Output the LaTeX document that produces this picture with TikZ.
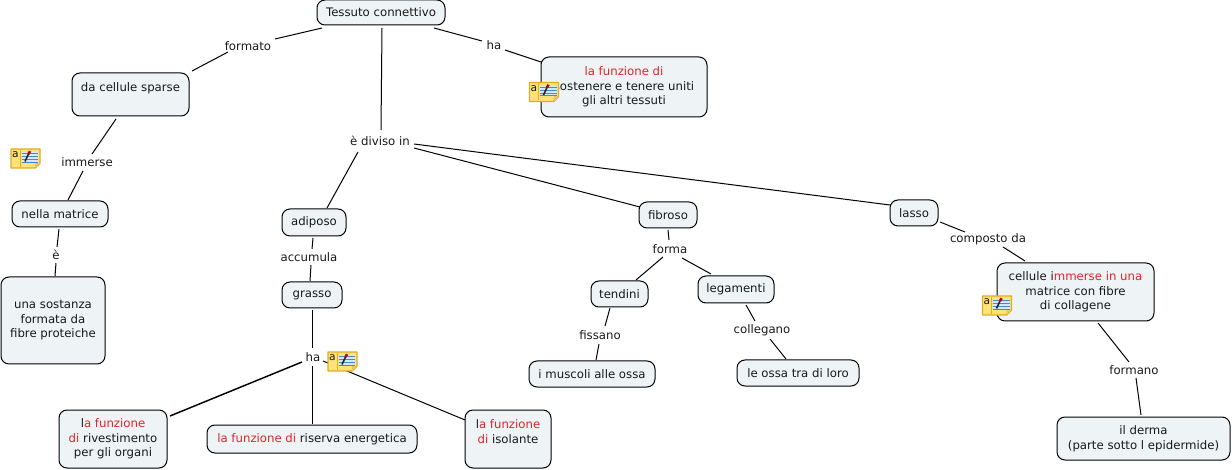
\documentclass[tikz,border=0pt]{standalone}
\usepackage{fontspec}
\setmainfont{DejaVu Sans}
\definecolor{boxfill}{HTML}{EEF4F6}
\definecolor{fred}{HTML}{E0242A}
\definecolor{noteyel}{HTML}{FFE27A}
\definecolor{noteedge}{HTML}{E0AC20}
\definecolor{noteblue}{HTML}{4A86CC}
\definecolor{notepanel}{HTML}{D6E8F4}
\newcommand{\rd}[1]{\textcolor{fred}{#1}}
\newcommand{\link}[4]{\draw[conn] ([shift={(#2)}]#1.center) -- ([shift={(#4)}]#3.center);}
\newcommand{\noteicon}[3]{%
  \begin{scope}[shift={(#2,#3)}]
    \draw[noteedge,fill=noteyel,line width=1.1pt,line join=round] (0,0) -- (29,0) -- (29,14) -- (24,19) -- (0,19) -- cycle;
    \fill[noteedge!70!white] (29,14) -- (24,14) -- (24,19) -- cycle;
    \draw[noteedge,line width=0.6pt] (9,1) -- (9,18);
    \fill[notepanel] (10.5,3.5) rectangle (27,13.5);
    \draw[noteblue,line width=0.6pt] (10.5,4.5) -- (27,4.5) (10.5,7.5) -- (27,7.5) (10.5,10.5) -- (27,10.5) (10.5,13) -- (27,13);
    \draw[black!85,line width=1.2pt] (14,12.5) -- (17.5,5);
    \draw[red!75!black,line width=1.9pt] (17.5,5) -- (19,2.2);
    \node[icona] (#1) at (4.5,6) {a};
  \end{scope}}
\tikzset{
  x=0.75pt,y=-0.75pt,
  every node/.style={font=\fontsize{8.8}{10.9}\selectfont,align=center,inner sep=0pt,text=black!90},
  cbox/.style 2 args={draw=black,fill=boxfill,line width=0.75pt,rounded corners=6pt,minimum width=#1*0.75pt,minimum height=#2*0.75pt},
  lab/.style={},
  conn/.style={draw=black,line width=0.75pt},
  icona/.style={font=\fontsize{8}{9}\selectfont}
}
\begin{document}
\begin{tikzpicture}
\useasboundingbox (0,0) rectangle (1232,470);
% concepts
\node[cbox={128}{25}] (ct) at (381,12.5) {Tessuto connettivo};
\node[cbox={117}{43}] (cell) at (130.5,94.5) {da cellule sparse\\~};
\node[cbox={166}{60}] (func) at (624,87) {\rd{la funzione di}\\sostenere e tenere uniti\\gli altri tessuti};
\node[cbox={96}{26}] (nella) at (60,214) {nella matrice};
\node[cbox={104}{87}] (sost) at (53,320.5) {una sostanza\\formata da\\fibre proteiche};
\node[cbox={64}{27}] (adi) at (314,222.5) {adiposo};
\node[cbox={60}{26}] (gr) at (312,295) {grasso};
\node[cbox={58}{26}] (fib) at (668,215) {fibroso};
\node[cbox={48}{26}] (las) at (914,213) {lasso};
\node[cbox={157}{58}] (cel) at (1075.5,292) {cellule i\rd{mmerse in una}\\matrice con fibre\\di collagene};
\node[cbox={57}{26}] (ten) at (619.5,294) {tendini};
\node[cbox={76}{27}] (leg) at (736,289.5) {legamenti};
\node[cbox={126}{26}] (mus) at (592,374) {i muscoli alle ossa};
\node[cbox={122}{26}] (oss) at (798,373) {le ossa tra di loro};
\node[cbox={173}{43}] (der) at (1143.5,438.5) {il derma\\(parte sotto l epidermide)};
\node[cbox={108}{58}] (riv) at (113,439) {l\rd{a funzione}\\\rd{di} rivestimento\\per gli organi};
\node[cbox={210}{28}] (ris) at (312,439) {\rd{la funzione di} riserva energetica};
\node[cbox={86}{58}] (iso) at (508,439) {l\rd{a funzione}\\\rd{di} isolante\\~};
% linking phrases
\node[lab] (l1) at (248,46) {formato};
\node[lab] (l2) at (494,45) {ha};
\node[lab] (l3) at (87,162) {immerse};
\node[lab] (l4) at (56,255) {è};
\node[lab] (l5) at (380,141) {è diviso in};
\node[lab] (l6) at (309,257) {accumula};
\node[lab] (l7) at (313,357) {ha};
\node[lab] (l8) at (670,249) {forma};
\node[lab] (l9) at (600,335) {fissano};
\node[lab] (l10) at (762,330) {collegano};
\node[lab] (l11) at (988,239) {composto da};
\node[lab] (l12) at (1134,370) {formano};
% connectors
\link{ct}{-59,15.5}{l1}{27,-7}
\link{l1}{-20,6}{cell}{61.5,-23.5}
\link{ct}{53,15.5}{l2}{-12,-4}
\link{l2}{11,5}{func}{-83,-25}
\link{ct}{1,15.5}{l5}{1,-11}
\link{cell}{-14.5,24.5}{l3}{5,-8}
\link{l3}{-4,9}{nella}{8,-14}
\link{nella}{-1,15}{l4}{1,-8}
\link{l4}{0,8}{sost}{2,-44.5}
\link{l5}{-22,11}{adi}{13,-14.5}
\link{adi}{-1,15.5}{l6}{3,-8}
\link{l6}{2,8}{gr}{-2,-14}
\link{gr}{0,15}{l7}{-1,-9}
\draw[conn,line width=1.1pt] ([shift={(-11,5)}]l7.center) -- ([shift={(57,-23)}]riv.center);
\link{l7}{-1,9}{ris}{0,-15}
\link{l7}{10,4}{iso}{-43,-19}
\link{l5}{34,7}{fib}{-28,-8}
\link{l5}{34,3}{las}{-24,-8}
\link{fib}{0,15}{l8}{-1,-9}
\link{l8}{-7,8}{ten}{16.5,-14}
\link{l8}{12,9}{leg}{-25,-15.5}
\link{ten}{-9.5,14}{l9}{5,-9}
\link{l9}{-1,9}{mus}{4,-14}
\link{leg}{10,15.5}{l10}{-7,-9}
\link{l10}{8,9}{oss}{-12,-14}
\link{las}{26,9}{l11}{-23,-7}
\link{l11}{15,8}{cel}{-50.5,-31}
\link{cel}{22.5,31}{l12}{-5,-8}
\link{l12}{2,8}{der}{-2.5,-23.5}
% note icons
\noteicon{n1}{11}{149}
\noteicon{n2}{529.5}{82.5}
\noteicon{n3}{328}{352}
\noteicon{n4}{982.5}{296}
\end{tikzpicture}
\end{document}
